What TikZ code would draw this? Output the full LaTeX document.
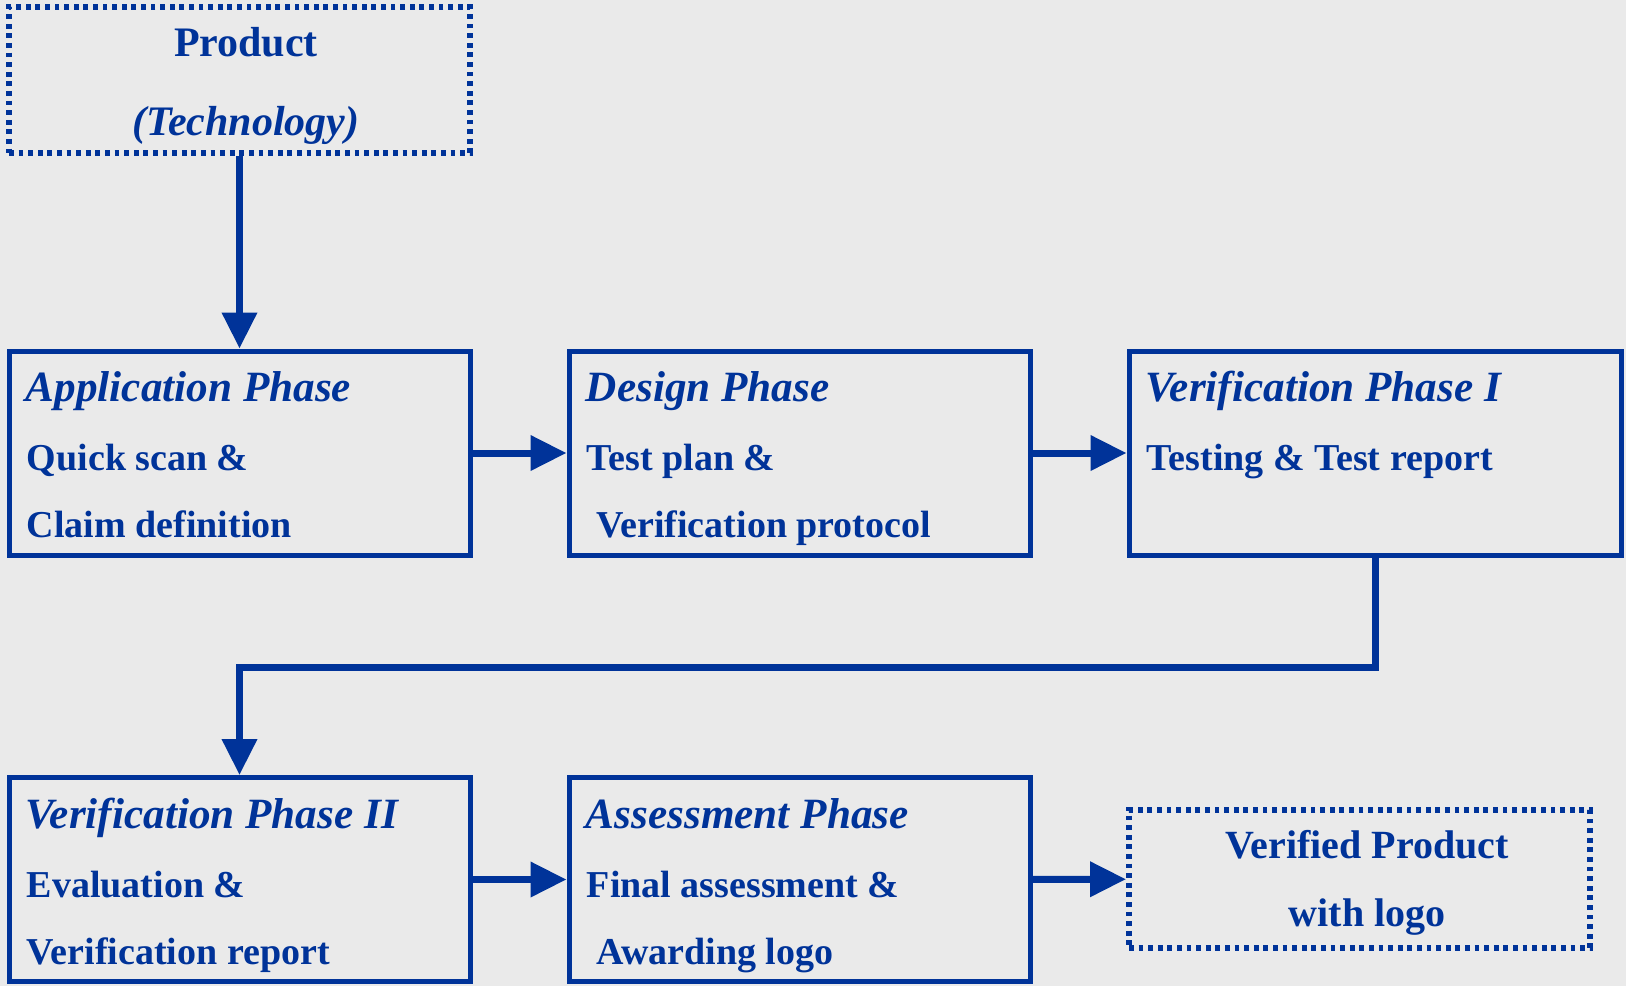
\documentclass[tikz,border=0pt]{standalone}
\usepackage{fontspec}
\setmainfont{Liberation Serif}
\usetikzlibrary{arrows.meta}
\definecolor{phaseblue}{RGB}{0,51,153}
\definecolor{bggray}{RGB}{234,234,234}
\begin{document}
\begin{tikzpicture}[x=0.5pt, y=-0.5pt,
        phase/.style={draw=phaseblue, line width=2.5pt, inner sep=0pt, minimum height=102pt},
        dotbox/.style={draw=phaseblue, line width=3pt, inner sep=0pt, dash pattern=on 2.4pt off 2.4pt},
        ttl/.style={font=\fontsize{21.6}{26}\selectfont\bfseries\itshape, text=phaseblue, inner sep=0pt, anchor=base west},
        txt/.style={font=\fontsize{19}{23}\selectfont\bfseries, text=phaseblue, inner sep=0pt, anchor=base west},
        ctr/.style={font=\fontsize{21}{25}\selectfont\bfseries, text=phaseblue, inner sep=0pt, anchor=base},
        flow/.style={draw=phaseblue, line width=3.5pt, -{Triangle[length=18pt,width=17pt]}}]
    \fill[bggray] (0,0) rectangle (1626,986);
    \useasboundingbox (0,0) rectangle (1626,986);
    % dotted start and end boxes
    \node[dotbox, minimum width=230.5pt, minimum height=73pt] (prod) at (239.5,80) {};
    \node[ctr] (prodA) at (246,56) {Product};
    \node[ctr] (prodB) at (246,135) {\itshape(Technology)};
    \node[dotbox, minimum width=230.5pt, minimum height=69pt] (done) at (1359.5,879) {};
    \node[ctr, font=\fontsize{20}{24}\selectfont\bfseries] (doneA) at (1367,858) {Verified Product};
    \node[ctr, font=\fontsize{20}{24}\selectfont\bfseries] (doneB) at (1367,926) {with logo};
    % phase boxes
    \foreach \name/\x/\y/\w/\ttltext/\lineA/\lineB in {
        app/239.5/453/230.5/Application Phase/Quick scan \&/Claim definition,
        design/799.5/453/230.5/Design Phase/Test plan \&/~Verification protocol,
        verI/1375/453/246/Verification Phase I/Testing \& Test report/{},
        verII/239.5/879.5/230.5/Verification Phase II/Evaluation \&/Verification report,
        assess/799.5/879.5/230.5/Assessment Phase/Final assessment \&/~Awarding logo
    } {
        \node[phase, minimum width=\w pt] (\name) at (\x,\y) {};
        \node[ttl] (\name-t) at ([shift={(19,53)}]\name.north west) {\ttltext};
        \node[txt] (\name-a) at ([shift={(20,122)}]\name.north west) {\lineA};
        \node[txt] (\name-b) at ([shift={(20,189)}]\name.north west) {\lineB};
    }
    % connectors
    \draw[flow] (prod.south) -- (app.north);
    \draw[flow] (app) -- (design);
    \draw[flow] (design) -- (verI);
    \draw[flow] (verI.south) -- ++(0,110) -| (verII.north);
    \draw[flow] (verII) -- (assess);
    \draw[flow] (assess) -- (done);
\end{tikzpicture}
\end{document}
